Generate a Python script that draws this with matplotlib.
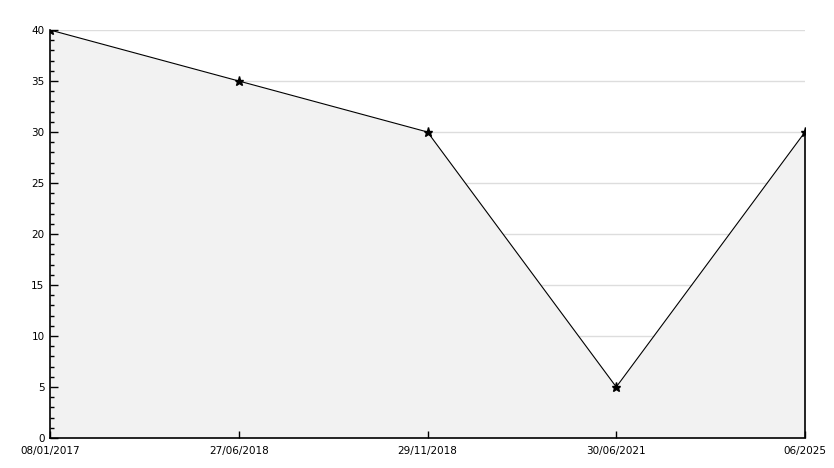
import matplotlib
matplotlib.use('Agg')
import matplotlib.pyplot as plt
from matplotlib.ticker import MultipleLocator

# Data
dates = ['08/01/2017', '27/06/2018', '29/11/2018', '30/06/2021', '06/2025']
values = [40, 35, 30, 5, 30]
grid_levels = [5, 10, 15, 20, 25, 30, 35, 40]

fig = plt.figure(figsize=(8.34, 4.68), dpi=100)
ax = fig.add_axes([50 / 834, 1 - 438 / 468, 755 / 834, 408 / 468])

x = list(range(len(dates)))

# Grid lines drawn by hand so they stay behind the filled area
for level in grid_levels:
    ax.axhline(level, color='#dddddd', linewidth=1, zorder=0)

ax.fill_between(x, values, 0, color='#f2f2f2', linewidth=0, zorder=1)
ax.plot(x, values, color='black', linewidth=0.8, marker='*', markersize=6.5, zorder=4)
ax.vlines(x[-1], 0, values[-1], color='black', linewidth=1.2, zorder=3, clip_on=False)

ax.set_xlim(0, len(dates) - 1)
ax.set_ylim(0, 40)
ax.set_xticks(x)
ax.set_xticklabels(dates)
ax.yaxis.set_major_locator(MultipleLocator(5))
ax.yaxis.set_minor_locator(MultipleLocator(1))
ax.set_axisbelow(False)

for side in ['top', 'right']:
    ax.spines[side].set_visible(False)
ax.spines['left'].set_linewidth(1.2)
ax.spines['bottom'].set_linewidth(1.2)

ax.tick_params(axis='y', which='major', direction='in', length=6, width=1, labelsize=7.5, pad=4)
ax.tick_params(axis='y', which='minor', direction='in', length=3, width=1)
ax.tick_params(axis='x', which='major', direction='in', length=5, width=1, labelsize=7.5, pad=6)

plt.savefig('out.png', dpi=100)
